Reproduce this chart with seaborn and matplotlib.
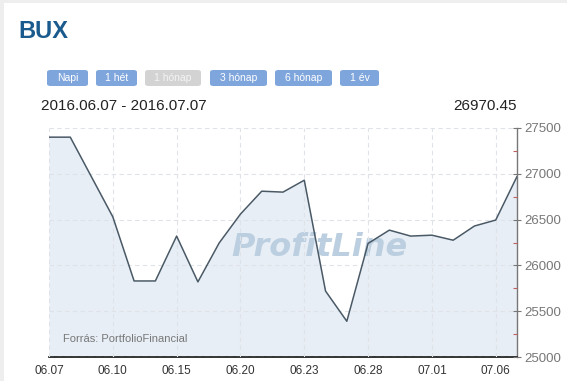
import matplotlib
matplotlib.use("Agg")
import matplotlib.pyplot as plt
from matplotlib.patches import FancyBboxPatch, Rectangle
import seaborn as sns
import pandas as pd
import numpy as np

dates = ["06.07", "06.08", "06.09", "06.10", "06.13", "06.14", "06.15", "06.16",
         "06.17", "06.20", "06.21", "06.22", "06.23", "06.24", "06.27", "06.28",
         "06.29", "06.30", "07.01", "07.04", "07.05", "07.06", "07.07"]
values = [27400, 27400, 26965, 26530, 25830, 25830, 26320, 25820,
          26245, 26560, 26810, 26800, 26930, 25720, 25390, 26240,
          26385, 26320, 26330, 26275, 26430, 26495, 26970.45]
xtick_labels = ["06.07", "06.10", "06.15", "06.20", "06.23", "06.28", "07.01", "07.06"]
ytick_values = [25000, 25500, 26000, 26500, 27000, 27500]
buttons = ["Napi", "1 hét", "1 hónap", "3 hónap", "6 hónap", "1 év"]

df = pd.DataFrame({"idx": np.arange(len(dates)), "date": dates, "value": values})

sns.set_style("white")
plt.rcParams["font.family"] = ["Liberation Sans", "DejaVu Sans"]

W, H = 567, 381
fig = plt.figure(figsize=(W / 100, H / 100), dpi=100)
fig.patch.set_facecolor("#eeeeee")
fig.add_artist(Rectangle((4 / W, 0), 1, (H - 3) / H, transform=fig.transFigure,
                         facecolor="white", edgecolor="none", zorder=0))

ax = fig.add_axes([49 / W, (H - 357) / H, (517 - 49) / W, (357 - 128) / H])
ax.set_facecolor("white")
ax.fill_between(df["idx"], df["value"], 25000, color="#e7eef6", zorder=1, linewidth=0)
sns.lineplot(data=df, x="idx", y="value", ax=ax, color="#4a5966", linewidth=1.1, zorder=3)

ax.set_xlim(0, len(dates) - 1)
ax.set_ylim(25000, 27500)
xt = [dates.index(d) for d in xtick_labels]
ax.set_xticks(xt)
ax.set_xticklabels(xtick_labels)
ax.set_yticks(ytick_values)
ax.set_yticks(np.arange(25250, 27500, 500), minor=True)
ax.yaxis.tick_right()
ax.yaxis.set_label_position("right")
ax.set_xlabel("")
ax.set_ylabel("")
ax.set_axisbelow(False)
ax.grid(True, which="major", color="#dfe3e8", linestyle=(0, (4, 3)), linewidth=0.8, zorder=1.5)
for s in ["top", "left"]:
    ax.spines[s].set_visible(False)
ax.spines["bottom"].set_color("#111111")
ax.spines["bottom"].set_linewidth(1.2)
ax.spines["right"].set_color("#777777")
ax.spines["right"].set_linewidth(1.0)
ax.tick_params(axis="x", direction="out", length=4, width=1, color="#333333",
               labelsize=8.5, labelcolor="#333333", pad=2)
ax.tick_params(axis="y", which="major", direction="inout", length=6, width=0.8, color="#777777",
               labelsize=9.5, labelcolor="#777777", pad=2)
ax.tick_params(axis="y", which="minor", direction="in", length=3, width=0.8, color="#c06060")

ax.text((319 - 49) / 468, 0.48, "ProfitLine", transform=ax.transAxes, ha="center", va="center",
        fontsize=23, fontweight="heavy", style="italic", color="#bccfe0",
        family=["DejaVu Sans"], zorder=2)
ax.text(0.03, 0.055, "Forrás: PortfolioFinancial", transform=ax.transAxes,
        ha="left", va="bottom", fontsize=8, color="#777777", zorder=4)

fig.text(18 / W, 1 - 32 / H, "BUX", ha="left", va="center", fontsize=17,
         fontweight="bold", color="#1a5a8c")
fig.text(41 / W, 1 - 106 / H, "2016.06.07 - 2016.07.07", ha="left", va="center",
         fontsize=11, color="#222222")
fig.text(517 / W, 1 - 106 / H, "26970.45", ha="right", va="center",
         fontsize=11, color="#222222")

btn_x = [(47, 88), (96, 137), (145, 201), (210, 267), (275, 332), (340, 379)]
for label, (x0, x1) in zip(buttons, btn_x):
    active = label != "1 hónap"
    fc = "#7ea5dc" if active else "#d3d3d3"
    tc = "white" if active else "#f4f4f4"
    fig.add_artist(FancyBboxPatch((x0 / W, (H - 86) / H), (x1 - x0) / W, 16 / H,
                                  boxstyle="round,pad=0,rounding_size=0.006",
                                  transform=fig.transFigure, facecolor=fc,
                                  edgecolor="none", zorder=2))
    fig.text((x0 + x1) / 2 / W, 1 - 78 / H, label, ha="center", va="center",
             fontsize=7.5, color=tc, zorder=3)

fig.savefig("out.png", dpi=100)
